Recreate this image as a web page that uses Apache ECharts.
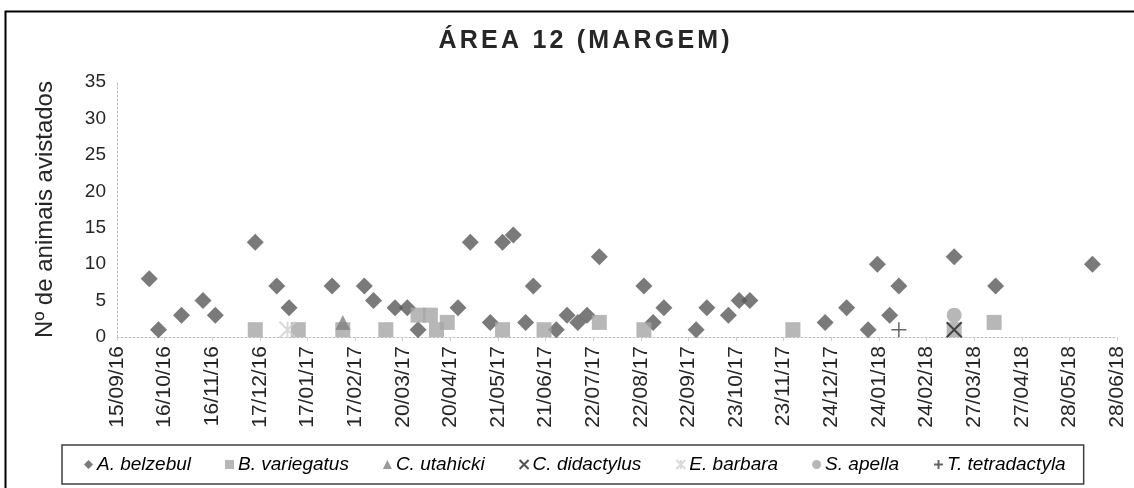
<!DOCTYPE html>
<html>
<head>
<meta charset="utf-8">
<script src="https://cdn.jsdelivr.net/npm/echarts@6/dist/echarts.min.js"></script>
<style>
  html, body { margin: 0; padding: 0; background: #fff; }
  #chart { width: 1134px; height: 488px; }
</style>
</head>
<body>
<div id="chart"></div>
<script>
// Sightings per survey day, [date dd/mm/yy, number of animals]
const aBelzebul = [
  ['06/10/16', 8], ['12/10/16', 1], ['27/10/16', 3], ['10/11/16', 5], ['18/11/16', 3],
  ['14/12/16', 13], ['28/12/16', 7], ['05/01/17', 4], ['02/02/17', 7], ['23/02/17', 7],
  ['01/03/17', 5], ['15/03/17', 4], ['23/03/17', 4], ['30/03/17', 1], ['25/04/17', 4],
  ['03/05/17', 13], ['16/05/17', 2], ['24/05/17', 13], ['31/05/17', 14], ['08/06/17', 2],
  ['13/06/17', 7], ['28/06/17', 1], ['05/07/17', 3], ['12/07/17', 2], ['18/07/17', 3],
  ['26/07/17', 11], ['24/08/17', 7], ['30/08/17', 2], ['06/09/17', 4], ['27/09/17', 1],
  ['04/10/17', 4], ['18/10/17', 3], ['25/10/17', 5], ['01/11/17', 5], ['20/12/17', 2],
  ['03/01/18', 4], ['17/01/18', 1], ['23/01/18', 10], ['31/01/18', 3], ['06/02/18', 7],
  ['14/03/18', 11], ['10/04/18', 7], ['12/06/18', 10]
];
const bVariegatus = [
  ['14/12/16', 1], ['11/01/17', 1], ['09/02/17', 1], ['09/03/17', 1], ['30/03/17', 3],
  ['07/04/17', 3], ['11/04/17', 1], ['18/04/17', 2], ['24/05/17', 1], ['20/06/17', 1],
  ['26/07/17', 2], ['24/08/17', 1], ['29/11/17', 1], ['14/03/18', 1], ['09/04/18', 2]
];
const cUtahicki = [['09/02/17', 2]];
const cDidactylus = [['14/03/18', 1]];
const eBarbara = [['04/01/17', 1]];
const sApella = [['14/03/18', 3]];
const tTetradactyla = [['06/02/18', 1]];

const seriesNames = ['A. belzebul', 'B. variegatus', 'C. utahicki', 'C. didactylus',
  'E. barbara', 'S. apella', 'T. tetradactyla'];

// Date axis: first and last labelled day, label step in days
const axisStart = '15/09/16';
const axisEnd = '28/06/18';
const axisStepDays = 31;
const yTicks = { min: 0, max: 35, step: 5 };

const DAY = 86400000;
function parseDate(s) {
  const [d, m, y] = s.split('/').map(Number);
  return Date.UTC(2000 + y, m - 1, d);
}
const origin = parseDate(axisStart);
const toDay = s => Math.round((parseDate(s) - origin) / DAY);
const pad = n => String(n).padStart(2, '0');
function dayLabel(v) {
  const dt = new Date(origin + v * DAY);
  return pad(dt.getUTCDate()) + '/' + pad(dt.getUTCMonth() + 1) + '/' + pad(dt.getUTCFullYear() % 100);
}
const toPoints = list => list.map(([d, v]) => [toDay(d), v]);

const FONT = '"Liberation Sans", Arial, sans-serif';

// Title with widened letter spacing, built from rich-text tokens
const titleText = 'ÁREA 12 (MARGEM)';
const titleRich = titleText.split('').map(ch => ch === ' ' ? '{s| }' : '{c|' + ch + '}').join('');

const chart = echarts.init(document.getElementById('chart'), null, { renderer: 'canvas' });

const strokeStyle = (c, w) => ({ color: 'rgba(0,0,0,0)', borderColor: c, borderWidth: w });
const titleToken = { fontSize: 25, fontWeight: 'bold', color: '#262626', fontFamily: FONT, padding: [0, 1.6, 0, 1.6] };

chart.setOption({
  animation: false,
  backgroundColor: '#fff',
  textStyle: { fontFamily: FONT },
  title: {
    text: titleRich,
    left: 432,
    top: 24,
    textStyle: { rich: { c: titleToken, s: titleToken } }
  },
  graphic: [{
    type: 'rect',
    shape: { x: 5.5, y: 11.5, width: 1160, height: 520 },
    style: { fill: 'none', stroke: '#000', lineWidth: 2 },
    silent: true
  }],
  grid: { left: 117, right: 17, top: 82, bottom: 151 },
  legend: {
    left: 62,
    top: 445,
    padding: [10, 18, 10, 22],
    itemGap: 34,
    itemWidth: 9,
    itemHeight: 9,
    borderColor: '#404040',
    borderWidth: 1.5,
    data: seriesNames,
    textStyle: { fontSize: 19, fontStyle: 'italic', color: '#000', fontFamily: FONT, padding: [0, 0, 0, -1] }
  },
  xAxis: {
    type: 'value',
    min: 0,
    max: toDay(axisEnd),
    interval: axisStepDays,
    splitLine: { show: false },
    axisLine: { show: true, lineStyle: { color: '#bfbfbf', type: [2, 2], width: 1 } },
    axisTick: { show: true, length: 4, lineStyle: { color: '#d0d0d0' } },
    axisLabel: {
      rotate: 90,
      margin: 9,
      fontSize: 21,
      color: '#262626',
      fontFamily: FONT,
      formatter: dayLabel
    }
  },
  yAxis: {
    type: 'value',
    min: yTicks.min,
    max: yTicks.max,
    interval: yTicks.step,
    name: 'Nº de animais avistados',
    nameLocation: 'middle',
    nameGap: 60,
    nameTextStyle: { fontSize: 24, color: '#262626', fontFamily: FONT },
    splitLine: { show: false },
    axisLine: { show: true, lineStyle: { color: '#bfbfbf', type: [2, 2], width: 1 } },
    axisTick: { show: false },
    axisLabel: { fontSize: 19, color: '#262626', margin: 11, fontFamily: FONT }
  },
  series: [
    { name: seriesNames[0], type: 'scatter', symbol: 'diamond', symbolSize: 17,
      itemStyle: { color: '#595959' }, data: toPoints(aBelzebul) },
    { name: seriesNames[1], type: 'scatter', symbol: 'rect', symbolSize: 15,
      itemStyle: { color: '#a5a5a5' }, data: toPoints(bVariegatus) },
    { name: seriesNames[2], type: 'scatter', symbol: 'triangle', symbolSize: 15,
      itemStyle: { color: '#7f7f7f' }, data: toPoints(cUtahicki) },
    { name: seriesNames[3], type: 'scatter', symbol: 'path://M0,0L10,10M10,0L0,10', symbolSize: 15,
      itemStyle: strokeStyle('#262626', 2), data: toPoints(cDidactylus) },
    { name: seriesNames[4], type: 'scatter', symbol: 'path://M0,0L10,10M10,0L0,10M5,0L5,10', symbolSize: 16,
      itemStyle: strokeStyle('#d0d0d0', 2), data: toPoints(eBarbara) },
    { name: seriesNames[5], type: 'scatter', symbol: 'circle', symbolSize: 15,
      itemStyle: { color: '#a5a5a5' }, data: toPoints(sApella) },
    { name: seriesNames[6], type: 'scatter', symbol: 'path://M5,0L5,10M0,5L10,5', symbolSize: 15,
      itemStyle: strokeStyle('#404040', 1.5), data: toPoints(tTetradactyla) }
  ]
});
</script>
</body>
</html>
